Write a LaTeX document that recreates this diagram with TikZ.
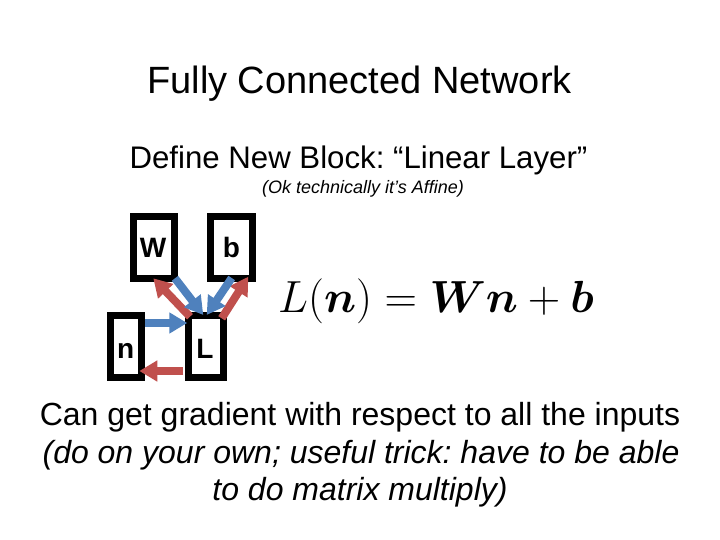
\RequirePackage{fix-cm}
\documentclass[tikz,border=0pt]{standalone}
\usepackage{fontspec}
\usepackage{bm}
\setmainfont{Liberation Sans}
\usetikzlibrary{arrows.meta}
\frenchspacing
\definecolor{arrblue}{RGB}{79,129,189}
\definecolor{arrred}{RGB}{192,80,77}
\tikzset{
  blockbox/.style={draw=black, line width=7pt, fill=white, inner sep=0pt, minimum height=62.5pt},
  blocklabel/.style={font=\bfseries\fontsize{28}{32}\selectfont, anchor=base, inner sep=0pt},
  fwd/.style={draw=arrblue, line width=8pt, -{Triangle[length=18pt,width=20pt]}},
  bwd/.style={draw=arrred, line width=8pt, -{Triangle[length=18pt,width=20pt]}},
  txt/.style={anchor=base, inner sep=0pt}
}
\begin{document}
\begin{tikzpicture}[x=1pt,y=-1pt]
\useasboundingbox (0,0) rectangle (720,540);
% texts
\node[txt, font=\fontsize{38}{44}\selectfont] (title) at (359.5,94) {Fully Connected Network};
\node[txt, font=\fontsize{31.2}{36}\selectfont] (sub) at (358.5,168.5) {Define New Block: “Linear Layer”};
\node[txt, font=\itshape\fontsize{18}{22}\selectfont] (note) at (363,194) {(Ok technically it’s Affine)};
\node[txt, font=\fontsize{32}{38}\selectfont] (l1) at (360,425) {Can get gradient with respect to all the inputs};
\node[txt, font=\itshape\fontsize{32}{38}\selectfont] (l2) at (361,463) {(do on your own; useful trick: have to be able};
\node[txt, font=\itshape\fontsize{32}{38}\selectfont] (l3) at (360,500) {to do matrix multiply)};
% equation
\node[anchor=base west, inner sep=0pt, font=\fontsize{45}{54}\selectfont] (eq) at (278,312) {$L(\bm{n}) = \bm{W}\bm{n} + \bm{b}$};
% boxes
\node[blockbox, minimum width=41pt] (W) at (154,247.5) {};
\node[blockbox, minimum width=42.5pt] (b) at (231.7,247.5) {};
\node[blockbox, minimum width=31pt] (n) at (126,346.7) {};
\node[blockbox, minimum width=34.5pt] (L) at (205.8,346.7) {};
\node[blocklabel] (Wl) at (153,258) {W};
\node[blocklabel] (bl) at (231.5,258) {b};
\node[blocklabel] (nl) at (125.7,358.3) {n};
\node[blocklabel] (Ll) at (205,358.3) {L};
% arrow end points
\coordinate (nOut) at (145,323);
\coordinate (LIn) at (187.3,323);
\coordinate (LOut) at (183.3,371);
\coordinate (nIn) at (139.3,371);
\coordinate (WOut) at (175,278.3);
\coordinate (LtopA) at (203.3,315);
\coordinate (bOut) at (231.7,278);
\coordinate (LtopB) at (206.7,315);
\coordinate (LredA) at (190,316.7);
\coordinate (WIn) at (153.3,278.3);
\coordinate (LredB) at (221.7,318.3);
\coordinate (bIn) at (248.3,276.7);
% arrows
\draw[bwd] (LredA) -- (WIn);
\draw[bwd] (LredB) -- (bIn);
\draw[fwd] (WOut) -- (LtopA);
\draw[fwd] (bOut) -- (LtopB);
\draw[fwd] (nOut) -- (LIn);
\draw[bwd] (LOut) -- (nIn);
\end{tikzpicture}
\end{document}
